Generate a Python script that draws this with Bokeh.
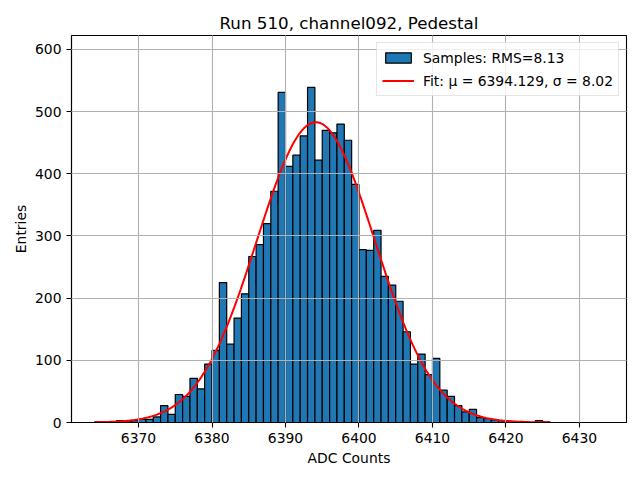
import numpy as np
from bokeh.plotting import figure
from bokeh.models import Legend, LegendItem, FixedTicker, Range1d
from bokeh.embed import file_html
from bokeh.resources import INLINE

# ---- data ----
BIN_START = 6364
BIN_WIDTH = 1
counts = [1, 0, 1, 3, 1, 3, 5, 5, 9, 27, 13, 45, 42, 71, 54, 94,
          116, 225, 126, 168, 207, 267, 286, 320, 372, 531,
          412, 430, 461, 539, 422, 470, 466, 480, 454, 383,
          278, 277, 309, 235, 221, 195, 146, 94, 110, 77,
          103, 52, 42, 27, 17, 21, 8, 6, 4, 3, 2, 1, 1, 0, 3, 1]
x_ticks = [6370, 6380, 6390, 6400, 6410, 6420, 6430]
y_ticks = [0, 100, 200, 300, 400, 500, 600]

MU = 6394.129
SIGMA = 8.02
AMPLITUDE = 483.0
RMS = 8.13

title_text = "Run 510, channel092, Pedestal"
x_label = "ADC Counts"
y_label = "Entries"

edges = BIN_START + BIN_WIDTH * np.arange(len(counts) + 1)
fit_x = np.linspace(edges[0], edges[-1], 300)
fit_y = AMPLITUDE * np.exp(-0.5 * ((fit_x - MU) / SIGMA) ** 2)

FONT = "DejaVu Sans"

p = figure(width=632, height=472, output_backend="svg", toolbar_location=None,
           x_range=Range1d(6360.88, 6436.4), y_range=Range1d(0, 622.5),
           min_border_left=71, min_border_right=6, min_border_top=35,
           min_border_bottom=50)

bars = p.quad(left=edges[:-1], right=edges[1:], top=counts, bottom=0,
              fill_color="#1f77b4", line_color="black", line_width=1.2)
fit = p.line(fit_x, fit_y, line_color="red", line_width=2)

p.title.text = title_text
p.title.align = "center"
p.title.text_font = FONT
p.title.text_font_size = "16.7px"
p.title.text_font_style = "normal"
p.title.text_color = "black"
p.title.standoff = 6

for ax in (p.xaxis[0], p.yaxis[0]):
    ax.axis_line_color = "black"
    ax.axis_line_width = 1.1
    ax.major_tick_line_width = 1.1
    ax.major_tick_out = 5
    ax.major_tick_in = 0
    ax.minor_tick_line_color = None
    ax.major_label_text_font = FONT
    ax.major_label_text_font_size = "13.9px"
    ax.major_label_text_color = "black"
    ax.axis_label_text_font = FONT
    ax.axis_label_text_font_size = "13.9px"
    ax.axis_label_text_font_style = "normal"
    ax.axis_label_text_color = "black"
    ax.major_label_standoff = 5
p.xaxis[0].ticker = FixedTicker(ticks=x_ticks)
p.yaxis[0].ticker = FixedTicker(ticks=y_ticks)
p.xaxis[0].axis_label = x_label
p.yaxis[0].axis_label = y_label
p.xaxis[0].axis_label_standoff = 4
p.yaxis[0].axis_label_standoff = 3

for g in (p.xgrid[0], p.ygrid[0]):
    g.grid_line_color = "#b0b0b0"
    g.grid_line_width = 1.1
    g.level = "guide"

p.outline_line_color = "black"
p.outline_line_width = 1.1
p.background_fill_color = "white"
p.border_fill_color = "white"

legend = Legend(items=[
    LegendItem(label=f"Samples: RMS={RMS:.2f}", renderers=[bars]),
    LegendItem(label=f"Fit: μ = {MU:.3f}, σ = {SIGMA:.2f}", renderers=[fit]),
], location="top_right")
legend.margin = 7
legend.padding = 5
legend.spacing = 4
legend.glyph_width = 32
legend.glyph_height = 13
legend.label_standoff = 9
legend.label_height = 19
legend.label_text_font = FONT
legend.label_text_font_size = "13.9px"
legend.label_text_color = "black"
legend.border_line_color = "#cccccc"
legend.border_line_width = 1
legend.background_fill_alpha = 0.8
p.add_layout(legend, "center")

open("out.html", "w").write(file_html(p, INLINE))
